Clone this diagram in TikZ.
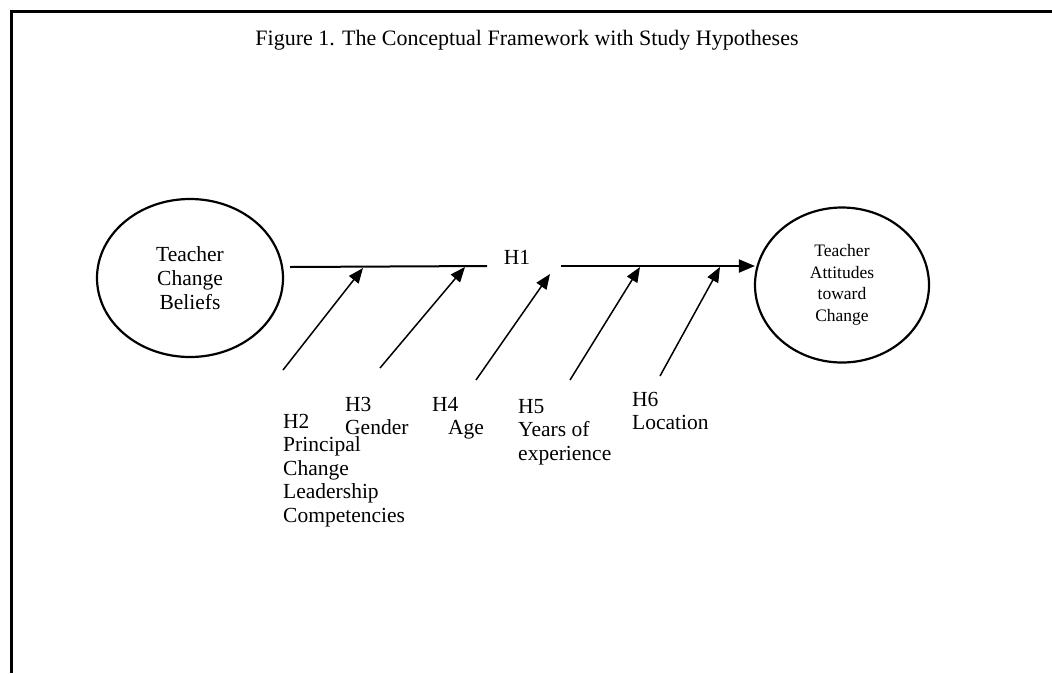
\documentclass[tikz,border=0pt]{standalone}
\usepackage{fontspec}
\setmainfont{Liberation Serif}
\usetikzlibrary{arrows.meta,shapes.geometric}
\begin{document}
\begin{tikzpicture}[x=1pt,y=-1pt,
  oval/.style={draw,ellipse,line width=2.2pt,inner sep=0pt,align=center},
  lbl/.style={anchor=north west,align=left,inner sep=0pt,font=\fontsize{21.5}{23.5}\selectfont},
  mainline/.style={line width=2pt},
  tip/.style={-{Triangle[length=16pt,width=13pt]}},
  modarrow/.style={line width=1.5pt,-{Triangle[length=15pt,width=12pt]}}]
\useasboundingbox (0,0) rectangle (1052,673);
\draw[line width=3pt] (11,673) -- (11,11) -- (1052,11);
\node (title) at (527,40) {\fontsize{22}{26}\selectfont Figure 1. The Conceptual Framework with Study Hypotheses};
\node[oval,minimum width=186pt,minimum height=158pt,font=\fontsize{21.5}{24}\selectfont] (tcb) at (190,278) {Teacher\\Change\\Beliefs};
\node[oval,minimum width=174pt,minimum height=155pt,font=\fontsize{17.5}{21.5}\selectfont] (tac) at (842,285) {Teacher\\Attitudes\\toward\\Change};
\node[font=\fontsize{21.5}{24}\selectfont] (h1) at (517,257) {H1};
\coordinate (l1a) at (290,267);
\coordinate (l1b) at (487,266);
\coordinate (l2a) at (561,266);
\draw[mainline] (l1a) -- (l1b);
\draw[mainline,tip] (l2a) -- ([xshift=1pt]l2a -| tac.west);
% moderator arrows
\coordinate (s2) at (283,370); \coordinate (e2) at (363,268);
\coordinate (s3) at (380,368); \coordinate (e3) at (465,267);
\coordinate (s4) at (476,380); \coordinate (e4) at (550,274);
\coordinate (s5) at (570,380); \coordinate (e5) at (640,267);
\coordinate (s6) at (660,376); \coordinate (e6) at (720,267);
\draw[modarrow] (s2) -- (e2);
\draw[modarrow] (s3) -- (e3);
\draw[modarrow] (s4) -- (e4);
\draw[modarrow] (s5) -- (e5);
\draw[modarrow] (s6) -- (e6);
% labels
\node[lbl] (h2) at (283,414) {H2\\Principal\\Change\\Leadership\\Competencies};
\node[lbl] (h3) at (345,397) {H3\\Gender};
\node[lbl] (h4) at (432,397) {H4\\\hspace*{16pt}Age};
\node[lbl] (h5) at (518,399) {H5\\Years of\\experience};
\node[lbl] (h6) at (632,392) {H6\\Location};
\end{tikzpicture}
\end{document}
